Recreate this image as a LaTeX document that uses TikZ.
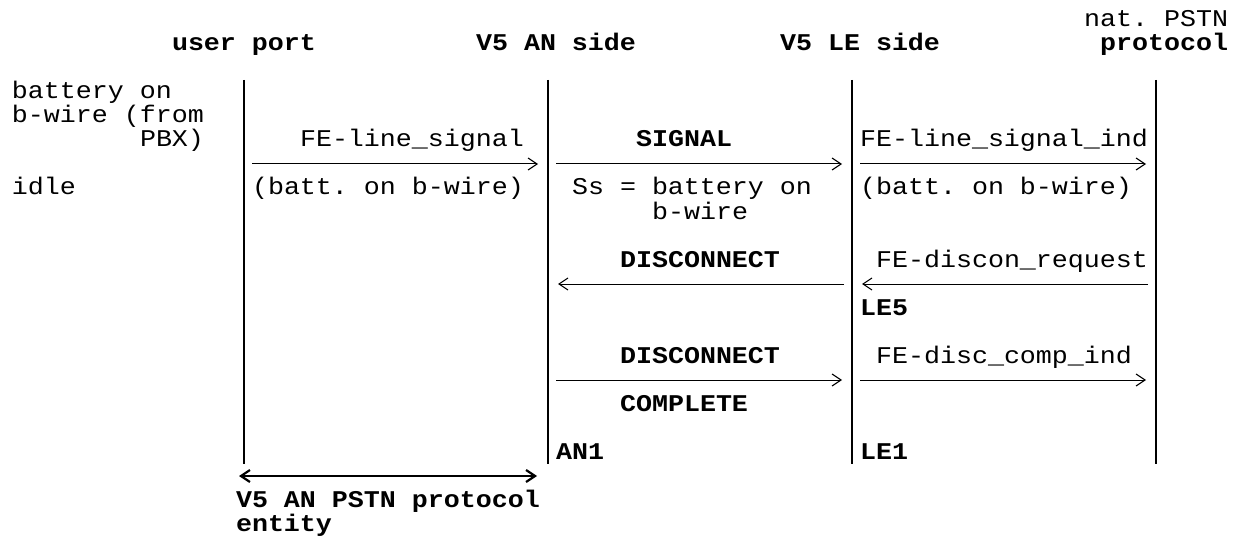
\documentclass[tikz,border=0pt]{standalone}
\usepackage{fontspec}
\setmonofont[FakeStretch=1.111]{Liberation Mono}
\usetikzlibrary{arrows.meta}
\frenchspacing
\newcommand\gtxt[5]{\node[#1] (#2) at ({12+16*#3},{27+24*#4}) {#5};}
\begin{document}
\begin{tikzpicture}[x=1pt,y=-1pt,
  txt/.style={anchor=base west,inner sep=0pt,outer sep=0pt,font=\ttfamily\fontsize{24}{24}\selectfont},
  btxt/.style={txt,font=\ttfamily\bfseries\fontsize{24}{24}\selectfont},
  life/.style={line width=1.1pt},
  barb/.tip={Straight Barb[length=9pt,width=12pt,line width=1.1pt]},
  bbarb/.tip={Straight Barb[length=9pt,width=12pt,line width=2.2pt]},
  msg/.style={line width=1pt,-barb},
  both/.style={line width=2pt,bbarb-bbarb}]
\useasboundingbox (0,0) rectangle (1246,537);
% headers
\gtxt{txt}{hnat}{67}{0}{nat. PSTN}
\gtxt{btxt}{hup}{10}{1}{user port}
\gtxt{btxt}{han}{29}{1}{V5 AN side}
\gtxt{btxt}{hle}{48}{1}{V5 LE side}
\gtxt{btxt}{hpr}{68}{1}{protocol}
% lifelines
\foreach \n/\x in {1/244,2/548,3/852,4/1156}{
  \coordinate (l\n t) at (\x,80);
  \coordinate (l\n b) at (\x,464);
  \draw[life] (l\n t) -- (l\n b);
}
% left column
\gtxt{txt}{s1}{0}{3}{battery on}
\gtxt{txt}{s2}{0}{4}{b-wire (from}
\gtxt{txt}{s3}{8}{5}{PBX)}
\gtxt{txt}{s4}{0}{7}{idle}
% row 1
\gtxt{txt}{a1}{18}{5}{FE-line\_signal}
\gtxt{txt}{a1b}{15}{7}{(batt. on b-wire)}
\gtxt{btxt}{b1}{39}{5}{SIGNAL}
\gtxt{txt}{b1b}{35}{7}{Ss = battery on}
\gtxt{txt}{b1c}{40}{8}{b-wire}
\gtxt{txt}{c1}{53}{5}{FE-line\_signal\_ind}
\gtxt{txt}{c1b}{53}{7}{(batt. on b-wire)}
\coordinate (m1s) at (252,164); \coordinate (m1e) at (538,164);
\coordinate (m2s) at (556,164); \coordinate (m2e) at (842,164);
\coordinate (m3s) at (860,164); \coordinate (m3e) at (1146,164);
\draw[msg] (m1s) -- (m1e);
\draw[msg] (m2s) -- (m2e);
\draw[msg] (m3s) -- (m3e);
% row 2
\gtxt{btxt}{b2}{38}{10}{DISCONNECT}
\gtxt{txt}{c2}{54}{10}{FE-discon\_request}
\gtxt{btxt}{le5}{53}{12}{LE5}
\coordinate (m4s) at (844,284); \coordinate (m4e) at (558,284);
\coordinate (m5s) at (1148,284); \coordinate (m5e) at (862,284);
\draw[msg] (m4s) -- (m4e);
\draw[msg] (m5s) -- (m5e);
% row 3
\gtxt{btxt}{b3}{38}{14}{DISCONNECT}
\gtxt{btxt}{b3b}{38}{16}{COMPLETE}
\gtxt{txt}{c3}{54}{14}{FE-disc\_comp\_ind}
\coordinate (m6s) at (556,380); \coordinate (m6e) at (842,380);
\coordinate (m7s) at (860,380); \coordinate (m7e) at (1146,380);
\draw[msg] (m6s) -- (m6e);
\draw[msg] (m7s) -- (m7e);
% states
\gtxt{btxt}{an1}{34}{18}{AN1}
\gtxt{btxt}{le1}{53}{18}{LE1}
% bottom
\coordinate (e1) at (239,476); \coordinate (e2) at (537,476);
\draw[both] (e1) -- (e2);
\gtxt{btxt}{ent1}{14}{20}{V5 AN PSTN protocol}
\gtxt{btxt}{ent2}{14}{21}{entity}
\end{tikzpicture}
\end{document}
